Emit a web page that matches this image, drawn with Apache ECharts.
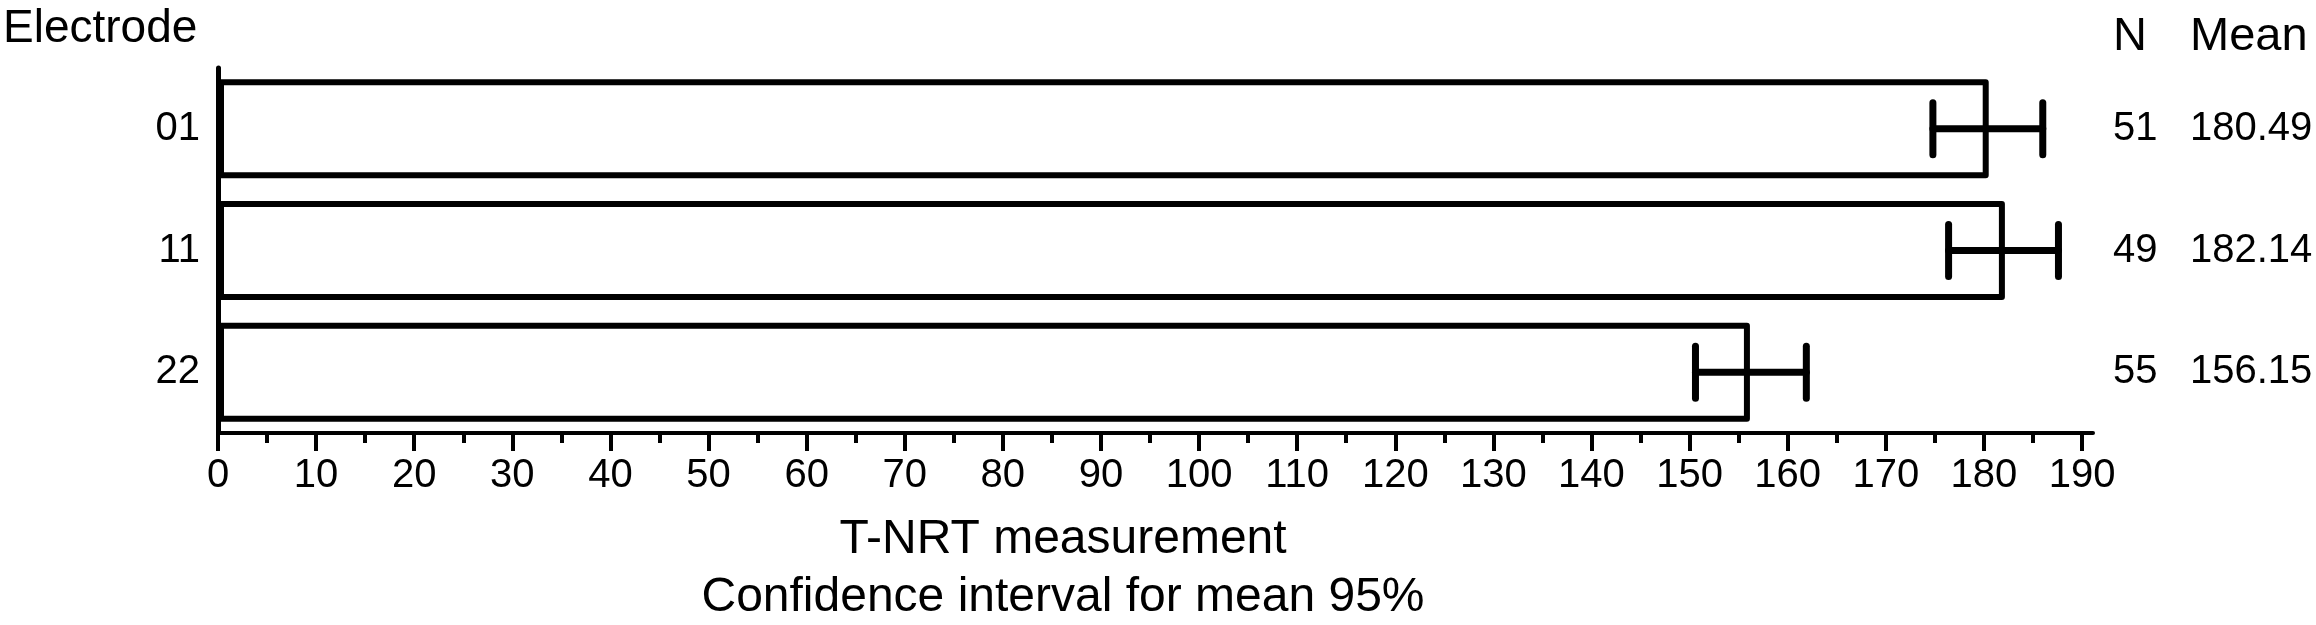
<!DOCTYPE html>
<html>
<head>
<meta charset="utf-8">
<script src="https://cdn.jsdelivr.net/npm/echarts@6/dist/echarts.min.js"></script>
<style>
html,body{margin:0;padding:0;background:#fff;}
#chart{width:2316px;height:625px;}
</style>
</head>
<body>
<div id="chart"></div>
<script>
// ---- data ----
const electrodes = ['01', '11', '22'];
const nValues = [51, 49, 55];
const means = [180.49, 182.14, 156.15];
const ciLow = [174.8, 176.4, 150.6];
const ciHigh = [186.0, 187.6, 161.9];
const xTicks = [0, 10, 20, 30, 40, 50, 60, 70, 80, 90, 100, 110, 120, 130, 140, 150, 160, 170, 180, 190];
const xTitle1 = 'T-NRT measurement';
const xTitle2 = 'Confidence interval for mean 95%';

const FONT = '"Liberation Sans", Arial, Helvetica, sans-serif';
const xMax = 191.12;
const minorTicks = xTicks.slice(0, -1).map(t => t + 5);

const chart = echarts.init(document.getElementById('chart'), null, {renderer: 'canvas'});

const errData = electrodes.map((e, i) => [i, ciLow[i], ciHigh[i]]);

const option = {
  backgroundColor: '#fff',
  animation: false,
  textStyle: {fontFamily: FONT, color: '#000'},
  grid: {left: 218, right: 223, top: 68, bottom: 192, containLabel: false},
  xAxis: [
    {
      type: 'value', min: 0, max: xMax,
      splitLine: {show: false},
      axisLine: {show: true, lineStyle: {color: '#000', width: 4}},
      axisTick: {show: true, customValues: xTicks, length: 18, lineStyle: {color: '#000', width: 4}},
      axisLabel: {show: true, customValues: xTicks, fontSize: 40, color: '#000', fontFamily: FONT, margin: 23}
    },
    {
      type: 'value', min: 0, max: xMax, position: 'bottom',
      splitLine: {show: false},
      axisLine: {show: false},
      axisTick: {show: true, customValues: minorTicks, length: 10, lineStyle: {color: '#000', width: 4}},
      axisLabel: {show: false}
    }
  ],
  yAxis: [
    {
      type: 'category', data: electrodes, inverse: true,
      axisLine: {show: true, lineStyle: {color: '#000', width: 5}},
      axisTick: {show: false},
      splitLine: {show: false},
      axisLabel: {fontSize: 40, color: '#000', fontFamily: FONT, margin: 18}
    },
    {
      type: 'category', data: electrodes, inverse: true, position: 'right',
      axisLine: {show: false},
      axisTick: {show: false},
      splitLine: {show: false},
      axisLabel: {
        margin: 20,
        formatter: (v, i) => '{n|' + nValues[i] + '}{m|' + means[i].toFixed(2) + '}',
        rich: {
          n: {width: 77, align: 'left', fontSize: 40, color: '#000', fontFamily: FONT},
          m: {align: 'left', fontSize: 40, color: '#000', fontFamily: FONT}
        }
      }
    }
  ],
  series: [
    {
      type: 'bar',
      data: means,
      xAxisIndex: 0, yAxisIndex: 0,
      barWidth: 99,
      itemStyle: {color: '#fff', borderColor: '#000', borderWidth: 6, borderJoin: 'round'},
      silent: true
    },
    {
      type: 'custom',
      xAxisIndex: 0, yAxisIndex: 0,
      data: errData,
      encode: {x: [1, 2], y: 0},
      renderItem: function (params, api) {
        const yi = api.value(0);
        const lo = api.coord([api.value(1), yi]);
        const hi = api.coord([api.value(2), yi]);
        const h = 52;
        const st = {stroke: '#000', lineWidth: 7, lineCap: 'round'};
        return {
          type: 'group',
          children: [
            {type: 'line', shape: {x1: lo[0], y1: lo[1], x2: hi[0], y2: hi[1]}, style: st},
            {type: 'line', shape: {x1: lo[0], y1: lo[1] - h / 2, x2: lo[0], y2: lo[1] + h / 2}, style: st},
            {type: 'line', shape: {x1: hi[0], y1: hi[1] - h / 2, x2: hi[0], y2: hi[1] + h / 2}, style: st}
          ]
        };
      },
      silent: true,
      z: 5
    }
  ],
  graphic: [
    {type: 'text', left: 3, top: 6, style: {text: 'Electrode', font: '46px ' + FONT, fill: '#000'}},
    {type: 'text', x: 2113, y: 37, style: {text: 'N', font: '47px ' + FONT, fill: '#000', verticalAlign: 'middle', align: 'left'}},
    {type: 'text', x: 2190, y: 37, style: {text: 'Mean', font: '47px ' + FONT, fill: '#000', verticalAlign: 'middle', align: 'left'}},
    {type: 'text', x: 1063, y: 540, style: {text: xTitle1, font: '48px ' + FONT, fill: '#000', verticalAlign: 'middle', align: 'center'}},
    {type: 'text', x: 1063, y: 598, style: {text: xTitle2, font: '48px ' + FONT, fill: '#000', verticalAlign: 'middle', align: 'center'}}
  ]
};

chart.setOption(option);
</script>
</body>
</html>
